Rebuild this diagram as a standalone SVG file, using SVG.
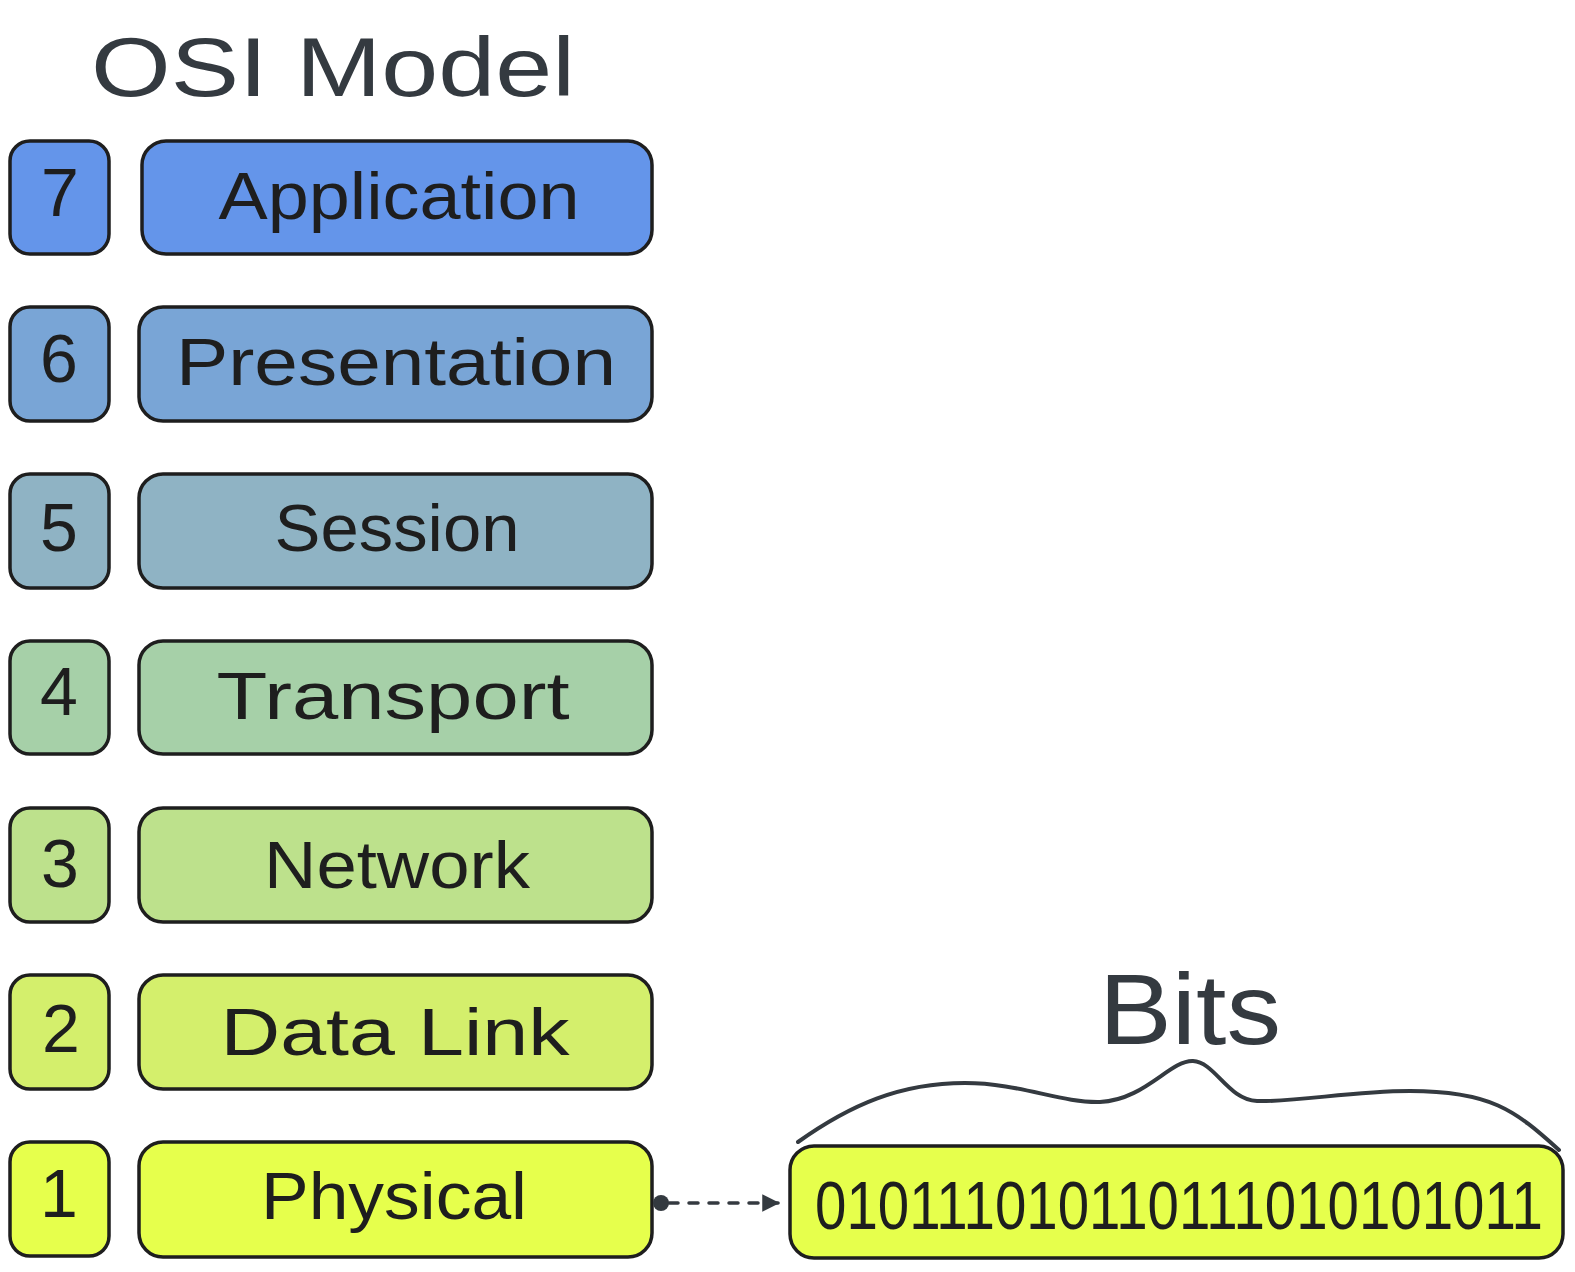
<svg xmlns="http://www.w3.org/2000/svg" width="1575" height="1272" viewBox="0 0 1575 1272">
<style>
.box{stroke:#1e1e1e;stroke-width:3.5;}
.lbl{font-family:"Liberation Sans",Arial,sans-serif;font-size:66px;fill:#1e1e1e;text-anchor:middle;}
.num{font-family:"Liberation Sans",Arial,sans-serif;font-size:68px;fill:#1e1e1e;text-anchor:middle;}
.ttl{font-family:"Liberation Sans",Arial,sans-serif;fill:#343a40;text-anchor:middle;}
</style>
<defs>
<marker id="ah" viewBox="0 0 10 10" refX="9" refY="5" markerWidth="5" markerHeight="5" orient="auto" markerUnits="strokeWidth">
<path d="M0,0 L10,5 L0,10 Z" fill="#343a40"/>
</marker>
</defs>
<rect width="1575" height="1272" fill="#ffffff"/>
<text class="ttl" x="333" y="96" font-size="84" textLength="484" lengthAdjust="spacingAndGlyphs">OSI Model</text>

<g id="n7"><rect class="box" x="10" y="141" width="99" height="113" rx="20" fill="#6495ea"/><text class="num" x="60" y="216">7</text></g>
<g id="l7"><rect class="box" x="142" y="141" width="510" height="113" rx="24" fill="#6495ea"/><text class="lbl" x="399" y="219" textLength="361" lengthAdjust="spacingAndGlyphs">Application</text></g>

<g id="n6"><rect class="box" x="10" y="307" width="99" height="114" rx="20" fill="#79a5d6"/><text class="num" x="59" y="382">6</text></g>
<g id="l6"><rect class="box" x="139" y="307" width="513" height="114" rx="24" fill="#79a5d6"/><text class="lbl" x="396" y="385" textLength="440" lengthAdjust="spacingAndGlyphs">Presentation</text></g>

<g id="n5"><rect class="box" x="10" y="474" width="99" height="114" rx="20" fill="#8fb3c4"/><text class="num" x="59" y="551">5</text></g>
<g id="l5"><rect class="box" x="139" y="474" width="513" height="114" rx="24" fill="#8fb3c4"/><text class="lbl" x="397" y="551" textLength="245" lengthAdjust="spacingAndGlyphs">Session</text></g>

<g id="n4"><rect class="box" x="10" y="641" width="99" height="113" rx="20" fill="#a6d0a8"/><text class="num" x="59" y="715">4</text></g>
<g id="l4"><rect class="box" x="139" y="641" width="513" height="113" rx="24" fill="#a6d0a8"/><text class="lbl" x="393" y="719" textLength="353" lengthAdjust="spacingAndGlyphs">Transport</text></g>

<g id="n3"><rect class="box" x="10" y="808" width="99" height="114" rx="20" fill="#bde18c"/><text class="num" x="60" y="887">3</text></g>
<g id="l3"><rect class="box" x="139" y="808" width="513" height="114" rx="24" fill="#bde18c"/><text class="lbl" x="397" y="888" textLength="266" lengthAdjust="spacingAndGlyphs">Network</text></g>

<g id="n2"><rect class="box" x="10" y="975" width="99" height="114" rx="20" fill="#d4ef6c"/><text class="num" x="61" y="1052">2</text></g>
<g id="l2"><rect class="box" x="139" y="975" width="513" height="114" rx="24" fill="#d4ef6c"/><text class="lbl" x="395" y="1055" textLength="349" lengthAdjust="spacingAndGlyphs">Data Link</text></g>

<g id="n1"><rect class="box" x="10" y="1142" width="99" height="114" rx="20" fill="#e6ff4c"/><text class="num" x="59" y="1217">1</text></g>
<g id="l1"><rect class="box" x="139" y="1142" width="513" height="115" rx="24" fill="#e6ff4c"/><text class="lbl" x="394" y="1219" textLength="266" lengthAdjust="spacingAndGlyphs">Physical</text></g>

<g id="bits">
<rect class="box" x="790" y="1146" width="773" height="112" rx="24" fill="#e6ff4c"/>
<text class="num" transform="translate(1179,1229) scale(0.83,1)" x="0" y="0" font-size="78">010111010110111010101011</text>
</g>

<g id="bits-label">
<path d="M798,1142 C 850,1105 900,1083 965,1083 C 1020,1083 1060,1103 1100,1102 C 1145,1100 1170,1060 1193,1061 C 1215,1062 1228,1100 1257,1101 C 1300,1102 1350,1091 1410,1091 C 1490,1091 1515,1110 1559,1150" fill="none" stroke="#343a40" stroke-width="4" stroke-linecap="round"/>
<text class="ttl" x="1190" y="1044" font-size="100" textLength="182" lengthAdjust="spacingAndGlyphs">Bits</text>
</g>

<g id="connectors">
<circle cx="661" cy="1203" r="8" fill="#343a40"/>
<line x1="669" y1="1203" x2="778" y2="1203" stroke="#343a40" stroke-width="3.5" stroke-dasharray="9 11" stroke-linecap="round" marker-end="url(#ah)"/>
</g>
</svg>
